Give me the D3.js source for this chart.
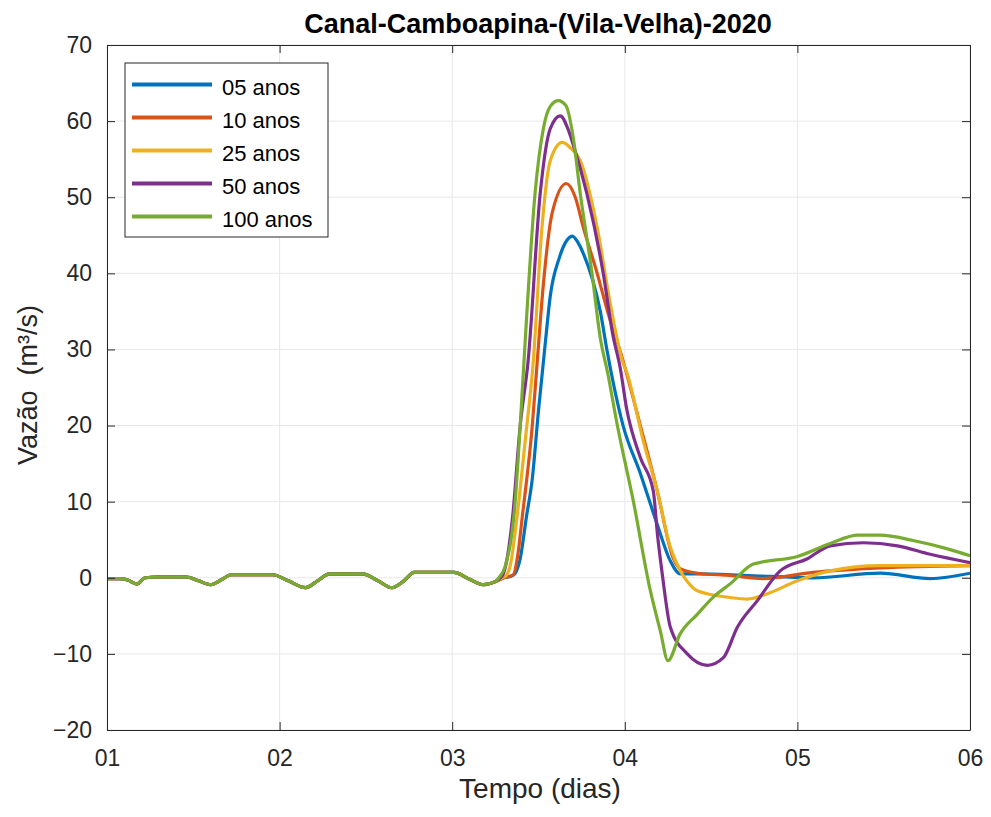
<!DOCTYPE html>
<html>
<head>
<meta charset="utf-8">
<script src="https://cdn.jsdelivr.net/npm/d3@7/dist/d3.min.js"></script>
<style>
  body { margin: 0; background: #fff; }
  svg { display: block; font-family: "Liberation Sans", Arial, Helvetica, sans-serif; }
</style>
</head>
<body>
<svg id="chart" width="991" height="817"></svg>
<script>
// ---- Data (time in days, flow in m³/s) ----
const seriesNames = ["05 anos", "10 anos", "25 anos", "50 anos", "100 anos"];
const seriesColors = ["#0072BD", "#D95319", "#EDB120", "#7E2F8E", "#77AC30"];
const xTickValues = [1, 2, 3, 4, 5, 6];
const xTickLabels = ["01", "02", "03", "04", "05", "06"];
const yTickValues = [-20, -10, 0, 10, 20, 30, 40, 50, 60, 70];

// shared pre-event (tidal) baseline
const baseline = [
  [1.00, -0.1], [1.08, -0.1], [1.12, -0.3], [1.174, -0.8], [1.22, 0.0], [1.30, 0.1],
  [1.46, 0.1], [1.53, -0.4], [1.60, -0.9], [1.66, -0.3], [1.72, 0.4], [1.96, 0.4],
  [2.05, -0.4], [2.15, -1.3], [2.22, -0.4], [2.29, 0.5], [2.48, 0.5], [2.57, -0.4],
  [2.65, -1.3], [2.72, -0.4], [2.78, 0.7], [3.01, 0.7], [3.10, -0.2], [3.18, -0.9],
  [3.25, -0.5]
];

const q05 = [
  [3.30, 0.0], [3.34, 0.2], [3.365, 0.6], [3.394, 2.5], [3.43, 8], [3.464, 13],
  [3.50, 22], [3.54, 31], [3.568, 37], [3.62, 42], [3.655, 44], [3.696, 44.9],
  [3.73, 44], [3.76, 42.6], [3.858, 35], [3.90, 29.5], [3.99, 20], [4.09, 13.7],
  [4.188, 7], [4.264, 2.2], [4.322, 0.5], [4.42, 0.5], [4.71, 0.3], [5.09, 0.0],
  [5.48, 0.6], [5.77, -0.1], [6.00, 0.6]
];
const q10 = [
  [3.30, 0.0], [3.354, 0.4], [3.38, 3], [3.406, 8], [3.464, 20], [3.493, 28.5],
  [3.528, 38.5], [3.58, 48], [3.661, 51.8], [3.713, 50], [3.76, 46], [3.84, 40],
  [3.90, 35], [3.99, 28.5], [4.09, 20], [4.188, 11.4], [4.28, 2.6], [4.32, 1.2],
  [4.42, 0.6], [4.61, 0.3], [4.80, -0.1], [5.09, 0.7], [5.48, 1.3], [6.00, 1.6]
];
const q25 = [
  [3.29, 0.0], [3.313, 0.3], [3.34, 2], [3.365, 6], [3.423, 18], [3.47, 28.5],
  [3.52, 46], [3.568, 54.8], [3.638, 57.2], [3.684, 56.5], [3.742, 54.8], [3.84, 46],
  [3.916, 36], [3.986, 28.5], [4.014, 26.8], [4.107, 18], [4.188, 11.4], [4.264, 4],
  [4.322, 0.9], [4.362, -0.5], [4.42, -1.7], [4.612, -2.6], [4.71, -2.8], [4.826, -2.1],
  [5.00, -0.4], [5.19, 0.9], [5.48, 1.6], [6.00, 1.6]
];
const q50 = [
  [3.28, 0.0], [3.296, 0.5], [3.35, 8], [3.394, 20], [3.44, 28.5], [3.51, 50.5],
  [3.568, 59], [3.626, 60.7], [3.67, 59], [3.70, 57], [3.78, 50.5], [3.875, 40],
  [3.93, 32], [3.974, 27.5], [4.01, 22.3], [4.09, 15.8], [4.165, 11.4], [4.19, 5.5],
  [4.217, 0.5], [4.264, -6.5], [4.362, -10], [4.478, -11.5], [4.571, -10.5],
  [4.652, -6.5], [4.768, -3], [4.90, 0.9], [5.058, 2.5], [5.19, 4.2], [5.383, 4.6],
  [5.58, 4.2], [5.77, 3.1], [6.00, 2.0]
];
const q100 = [
  [3.27, 0.0], [3.307, 1.5], [3.365, 10], [3.394, 20], [3.42, 30], [3.48, 50.5],
  [3.528, 59], [3.57, 62], [3.615, 62.7], [3.66, 62], [3.70, 58], [3.742, 50.5],
  [3.81, 40], [3.858, 31.5], [3.90, 27], [3.957, 20], [4.05, 10], [4.148, -1.7],
  [4.206, -7], [4.25, -10.9], [4.32, -7.4], [4.42, -4.8], [4.51, -2.6], [4.61, -0.8],
  [4.745, 1.8], [5.00, 2.8], [5.19, 4.5], [5.35, 5.6], [5.48, 5.6], [5.67, 4.9],
  [5.87, 3.8], [6.00, 2.9]
];
const seriesData = [q05, q10, q25, q50, q100];

// ---- Layout ----
const svg = d3.select("#chart");
const pL = 107, pR = 970, pT = 45, pB = 730;

const x = d3.scaleLinear().domain([1, 6]).range([pL, pR]);
const y = d3.scaleLinear().domain([-20, 70]).range([pB, pT]);

// grid
const grid = svg.append("g").attr("stroke", "#e8e8e8").attr("stroke-width", 1);
xTickValues.forEach(v => grid.append("line")
  .attr("x1", x(v)).attr("x2", x(v)).attr("y1", pT).attr("y2", pB));
yTickValues.forEach(v => grid.append("line")
  .attr("x1", pL).attr("x2", pR).attr("y1", y(v)).attr("y2", y(v)));

// lines
const line = d3.line().x(d => x(d[0])).y(d => y(d[1])).curve(d3.curveMonotoneX);
svg.append("clipPath").attr("id", "clip").append("rect")
  .attr("x", pL).attr("y", pT).attr("width", pR - pL).attr("height", pB - pT);
const linesG = svg.append("g").attr("clip-path", "url(#clip)");
seriesData.forEach((s, i) => {
  linesG.append("path")
    .datum(baseline.concat(s))
    .attr("fill", "none")
    .attr("stroke", seriesColors[i])
    .attr("stroke-width", 3.2)
    .attr("stroke-linejoin", "round")
    .attr("d", line);
});

// axes (MATLAB style ticks inside, box)
const axisColor = "#262626";
const xAxisB = d3.axisBottom(x).tickValues(xTickValues)
  .tickFormat((d, i) => xTickLabels[i]).tickSizeInner(-8).tickSizeOuter(0).tickPadding(20);
const xAxisT = d3.axisTop(x).tickValues(xTickValues).tickFormat("").tickSizeInner(-8).tickSizeOuter(0);
const yAxisL = d3.axisLeft(y).tickValues(yTickValues).tickSizeInner(-8).tickSizeOuter(0).tickPadding(15);
const yAxisR = d3.axisRight(y).tickValues(yTickValues).tickFormat("").tickSizeInner(-8).tickSizeOuter(0);

function styleAxis(g) {
  g.select(".domain").attr("stroke", axisColor);
  g.selectAll(".tick line").attr("stroke", axisColor);
  g.selectAll("text").attr("fill", "#262626").attr("font-size", 23)
    .attr("font-family", "'Liberation Sans', Arial, sans-serif");
}
svg.append("g").attr("transform", `translate(0,${pB})`).call(xAxisB).call(styleAxis);
svg.append("g").attr("transform", `translate(0,${pT})`).call(xAxisT).call(styleAxis);
svg.append("g").attr("transform", `translate(${pL},0)`).call(yAxisL).call(styleAxis);
svg.append("g").attr("transform", `translate(${pR},0)`).call(yAxisR).call(styleAxis);

// title and labels
svg.append("text").attr("x", 538).attr("y", 33)
  .attr("text-anchor", "middle").attr("font-size", 27).attr("font-weight", "bold")
  .attr("fill", "#000").text("Canal-Camboapina-(Vila-Velha)-2020");
svg.append("text").attr("x", 540).attr("y", 798)
  .attr("text-anchor", "middle").attr("font-size", 28).attr("fill", "#262626")
  .text("Tempo (dias)");
svg.append("text").attr("transform", `translate(37,385) rotate(-90)`)
  .attr("text-anchor", "middle").attr("font-size", 27).attr("fill", "#262626")
  .attr("xml:space", "preserve").style("white-space", "pre")
  .text("Vazão  (m³/s)");

// legend
const lg = svg.append("g");
lg.append("rect").attr("x", 125).attr("y", 63).attr("width", 203).attr("height", 174)
  .attr("fill", "#fff").attr("stroke", "#262626").attr("stroke-width", 1);
seriesNames.forEach((n, i) => {
  const yy = 84.5 + i * 33;
  lg.append("line").attr("x1", 132).attr("x2", 212).attr("y1", yy).attr("y2", yy)
    .attr("stroke", seriesColors[i]).attr("stroke-width", 4);
  lg.append("text").attr("x", 222).attr("y", yy + 10).attr("font-size", 22)
    .attr("fill", "#000").text(n);
});
</script>
</body>
</html>
